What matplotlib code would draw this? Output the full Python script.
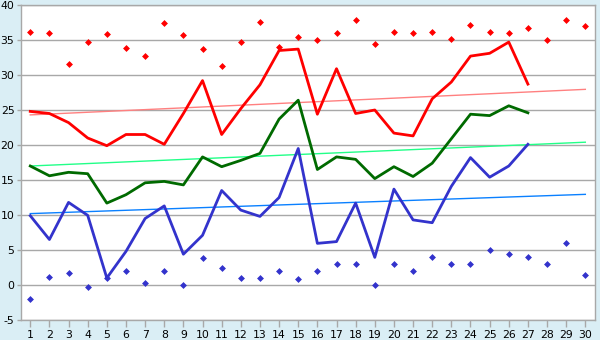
import matplotlib
matplotlib.use("Agg")
import matplotlib.pyplot as plt
import numpy as np

days = np.arange(1, 31)
days_line = np.arange(1, 28)

# daily maxima / minima markers
high_pts = [36.1, 36.0, 31.5, 34.7, 35.8, 33.8, 32.7, 37.4, 35.7, 33.7,
            31.3, 34.7, 37.5, 34.0, 35.4, 35.0, 36.0, 37.8, 34.4, 36.2,
            36.0, 36.2, 35.1, 37.2, 36.2, 36.0, 36.7, 35.0, 37.8, 37.0]
low_pts = [-2.0, 1.2, 1.7, -0.3, 0.95, 2.0, 0.25, 2.0, 0.0, 3.8,
           2.5, 1.0, 1.0, 2.0, 0.8, 2.0, 3.0, 3.0, 0.0, 3.0,
           2.0, 3.95, 3.0, 3.0, 4.95, 4.4, 4.0, 3.0, 5.95, 1.4]

# series lines
red_line = [24.8, 24.5, 23.2, 21.0, 19.9, 21.5, 21.5, 20.1, 24.5, 29.2,
            21.5, 25.2, 28.6, 33.5, 33.7, 24.4, 30.9, 24.5, 25.0, 21.7,
            21.3, 26.6, 29.0, 32.7, 33.1, 34.7, 28.7]
green_line = [17.0, 15.6, 16.1, 15.9, 11.7, 12.9, 14.6, 14.8, 14.3, 18.3,
              16.9, 17.8, 18.8, 23.7, 26.4, 16.5, 18.3, 17.95, 15.2, 16.9,
              15.5, 17.4, 20.9, 24.4, 24.2, 25.6, 24.6]
blue_line = [9.9, 6.5, 11.8, 9.95, 1.0, 4.8, 9.5, 11.3, 4.4, 7.1,
             13.5, 10.7, 9.8, 12.5, 19.5, 5.95, 6.2, 11.7, 3.95, 13.7,
             9.3, 8.9, 14.1, 18.2, 15.4, 17.0, 20.1]

# trend line end points (day 1, day 30)
trend_x = [1, 30]
red_trend = [24.3, 27.95]
green_trend = [17.0, 20.4]
blue_trend = [10.2, 12.95]

yticks = list(range(-5, 45, 5))

bg = '#daeef5'
fig = plt.figure(figsize=(6, 3.4), dpi=100, facecolor=bg)
ax = fig.add_axes([0.0345, 0.0588, 0.957, 0.9265])
ax.set_facecolor('white')

ax.plot(trend_x, red_trend, color='#ff8080', lw=1.0, zorder=2)
ax.plot(trend_x, green_trend, color='#22ff88', lw=1.0, zorder=2)
ax.plot(trend_x, blue_trend, color='#0a80ff', lw=1.0, zorder=2)

ax.plot(days_line, red_line, color='#ff0000', lw=2.0, zorder=3)
ax.plot(days_line, green_line, color='#006a00', lw=2.0, zorder=3)
ax.plot(days_line, blue_line, color='#3333cc', lw=2.0, zorder=3)

ax.plot(days, high_pts, linestyle='None', marker='D', ms=3.0, mew=0.5,
        color='#ff0000', mec='#ff0000', zorder=4)
ax.plot(days, low_pts, linestyle='None', marker='D', ms=3.0, mew=0.5,
        color='#3333cc', mec='#3333cc', zorder=4)

ax.set_xlim(0.5, 30.5)
ax.set_ylim(-5, 40)
ax.set_xticks(days)
ax.set_xticklabels([str(d) for d in days])
ax.set_yticks(yticks)
ax.set_yticklabels([str(v) for v in yticks])

ax.grid(axis='y', color='#a8a8a8', lw=1.0)
ax.set_axisbelow(True)
for s in ax.spines.values():
    s.set_color('#a8a8a8')
    s.set_linewidth(1.0)
ax.tick_params(axis='both', colors='#a8a8a8', labelcolor='black',
               labelsize=7.8, width=1.0)
ax.tick_params(axis='x', length=5, pad=2.5)
ax.tick_params(axis='y', length=3, pad=1.5)

plt.savefig('out.png', dpi=100, facecolor=bg)
